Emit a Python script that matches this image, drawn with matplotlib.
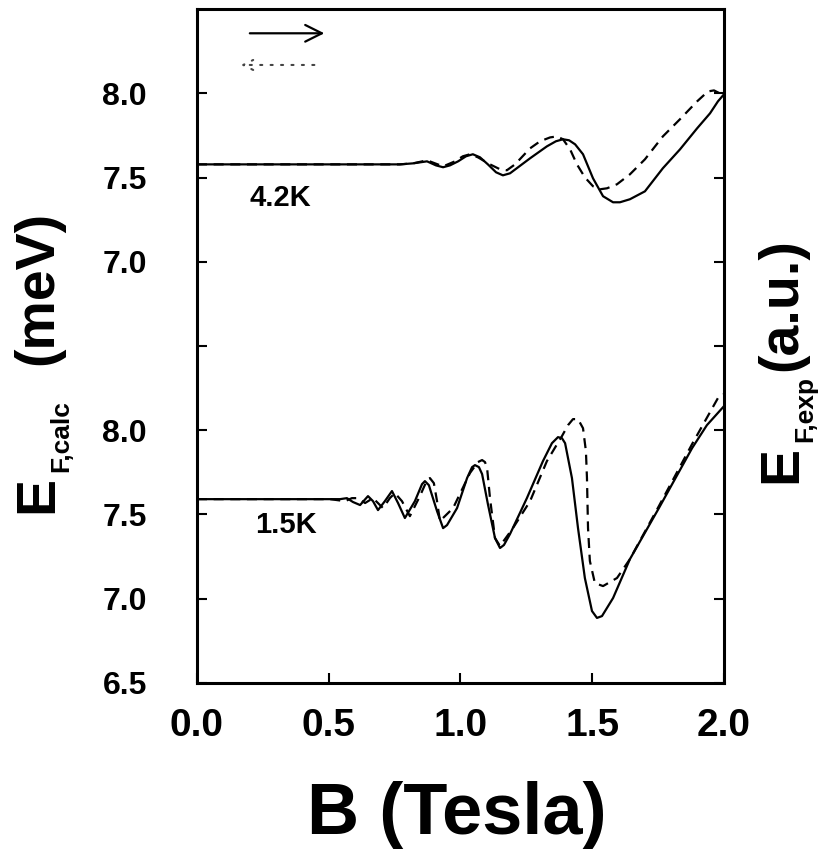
import numpy as np
import matplotlib
matplotlib.use("Agg")
import matplotlib.pyplot as plt

plt.rcParams['font.family'] = ['Liberation Sans', 'DejaVu Sans']
plt.rcParams['font.weight'] = 'bold'

# upper set is shifted up by this much on the shared axis
OFFSET = 2.0

# 4.2 K: calculated (solid) and measured (dashed)
b_42_calc = [0, 0.770, 0.820, 0.873, 0.907, 0.934, 0.960, 0.991, 1.021, 1.047, 1.074, 1.104,
             1.135, 1.161, 1.188, 1.264, 1.328, 1.362, 1.389, 1.412, 1.435, 1.465, 1.503,
             1.541, 1.579, 1.605, 1.643, 1.700, 1.768, 1.833, 1.898, 1.947, 1.977, 2.0]
e_42_calc = [7.578, 7.578, 7.584, 7.596, 7.572, 7.561, 7.572, 7.596, 7.626, 7.638, 7.620, 7.578,
             7.531, 7.513, 7.525, 7.614, 7.685, 7.715, 7.727, 7.721, 7.697, 7.638, 7.495,
             7.389, 7.353, 7.353, 7.371, 7.418, 7.555, 7.667, 7.792, 7.881, 7.952, 7.994]
b_42_exp = [0, 0.770, 0.820, 0.873, 0.934, 0.979, 1.009, 1.036, 1.066, 1.112, 1.150, 1.176,
            1.207, 1.264, 1.302, 1.340, 1.366, 1.389, 1.416, 1.442, 1.472, 1.503, 1.529,
            1.556, 1.594, 1.643, 1.700, 1.768, 1.833, 1.898, 1.939, 1.962, 1.985, 2.0]
e_42_exp = [7.578, 7.578, 7.584, 7.602, 7.566, 7.596, 7.626, 7.638, 7.620, 7.578, 7.549, 7.543,
            7.578, 7.673, 7.715, 7.738, 7.744, 7.727, 7.667, 7.578, 7.501, 7.448, 7.430,
            7.436, 7.460, 7.519, 7.608, 7.744, 7.846, 7.952, 8.011, 8.017, 7.999, 7.988]

# 1.5 K: calculated (solid) and measured (dashed)
b_15_calc = [0, 0.455, 0.543, 0.569, 0.592, 0.619, 0.649, 0.668, 0.687, 0.713, 0.740, 0.763,
             0.789, 0.827, 0.854, 0.865, 0.880, 0.911, 0.934, 0.949, 0.987, 1.025, 1.044,
             1.055, 1.070, 1.082, 1.104, 1.131, 1.150, 1.165, 1.188, 1.252, 1.313, 1.347,
             1.370, 1.385, 1.397, 1.423, 1.446, 1.472, 1.499, 1.518, 1.537, 1.579, 1.643,
             1.753, 1.879, 1.935, 2.0]
e_15_calc = [7.591, 7.591, 7.591, 7.597, 7.574, 7.556, 7.609, 7.579, 7.526, 7.579, 7.639, 7.568,
             7.479, 7.579, 7.680, 7.698, 7.674, 7.520, 7.419, 7.437, 7.538, 7.716, 7.781,
             7.793, 7.781, 7.740, 7.562, 7.360, 7.301, 7.319, 7.384, 7.597, 7.817, 7.923,
             7.959, 7.953, 7.923, 7.716, 7.419, 7.123, 6.927, 6.886, 6.897, 7.004, 7.235,
             7.538, 7.894, 8.030, 8.143]
b_15_exp = [0, 0.505, 0.562, 0.588, 0.611, 0.638, 0.668, 0.706, 0.732, 0.751, 0.778, 0.808,
            0.846, 0.873, 0.884, 0.899, 0.911, 0.922, 0.972, 1.036, 1.066, 1.082, 1.093,
            1.101, 1.112, 1.131, 1.150, 1.199, 1.264, 1.328, 1.385, 1.408, 1.427, 1.446,
            1.465, 1.476, 1.480, 1.484, 1.491, 1.510, 1.541, 1.594, 1.643, 1.753, 1.879,
            1.981, 2.0]
e_15_exp = [7.591, 7.591, 7.579, 7.597, 7.597, 7.568, 7.597, 7.538, 7.597, 7.627, 7.579, 7.490,
            7.609, 7.704, 7.716, 7.686, 7.579, 7.461, 7.538, 7.746, 7.811, 7.823, 7.811,
            7.775, 7.597, 7.360, 7.313, 7.419, 7.579, 7.817, 7.965, 8.030, 8.066, 8.066,
            8.012, 7.876, 7.716, 7.419, 7.224, 7.093, 7.075, 7.123, 7.235, 7.550, 7.918,
            8.202, 8.214]

ytick_pos = [6.5, 7.0, 7.5, 8.0, 8.5, 9.0, 9.5, 10.0]
ytick_lab = ['6.5', '7.0', '7.5', '8.0', '', '7.0', '7.5', '8.0']
xtick_pos = [0.0, 0.5, 1.0, 1.5, 2.0]

fig = plt.figure(figsize=(8.19, 8.52), dpi=100)
ax = fig.add_axes([0.2405, 0.1984, 0.6435, 0.7910])

dash = (0, (4.5, 3))
ax.plot(b_42_calc, np.array(e_42_calc) + OFFSET, color='black', lw=1.6)
ax.plot(b_42_exp, np.array(e_42_exp) + OFFSET, color='black', lw=1.6, linestyle=dash)
ax.plot(b_15_calc, e_15_calc, color='black', lw=1.6)
ax.plot(b_15_exp, e_15_exp, color='black', lw=1.6, linestyle=dash)

ax.text(0.20, 7.377 + OFFSET, '4.2K', fontsize=21, fontweight='bold', va='center')
ax.text(0.22, 7.437, '1.5K', fontsize=21, fontweight='bold', va='center')

# arrows marking which curve belongs to which axis
ax.annotate('', xy=(0.247, 0.964), xytext=(0.095, 0.964), xycoords='axes fraction',
            arrowprops=dict(arrowstyle='->', lw=1.6, color='black', mutation_scale=30))
ax.annotate('', xy=(0.078, 0.917), xytext=(0.228, 0.917), xycoords='axes fraction',
            arrowprops=dict(arrowstyle='->', lw=1.5, color='#444444', linestyle=(0, (1, 4)),
                            mutation_scale=18))

ax.set_xlim(0, 2.0)
ax.set_ylim(6.5, 10.5)
ax.set_xticks(xtick_pos)
ax.set_xticklabels(['%.1f' % v for v in xtick_pos], fontsize=28, fontweight='bold')
ax.set_yticks(ytick_pos)
ax.set_yticklabels(ytick_lab, fontsize=23, fontweight='bold')
ax.tick_params(axis='both', direction='in', length=7, width=1.5)
ax.tick_params(axis='y', right=True, pad=36)
ax.tick_params(axis='x', pad=18)
for s in ax.spines.values():
    s.set_linewidth(2.2)

fig.text(0.558, 0.043, 'B (Tesla)', fontsize=52, fontweight='bold', ha='center', va='center')


def side_label(x_main, y_e, x_sub, y_sub, y_unit, sub, unit):
    # vertical label built from pieces so the subscript can stay small
    kw = dict(rotation=90, rotation_mode='anchor', ha='left', va='baseline', fontweight='bold')
    fig.text(x_main, y_e, 'E', fontsize=40, **kw)
    fig.text(x_sub, y_sub, sub, fontsize=19, **kw)
    fig.text(x_main, y_unit, unit, fontsize=40, **kw)


side_label(0.0635, 0.3979, 0.0830, 0.4460, 0.5716, 'F,calc', '(meV)')
side_label(0.9719, 0.4331, 0.9914, 0.4812, 0.5646, 'F,exp', '(a.u.)')

fig.savefig('out.png', dpi=100)
